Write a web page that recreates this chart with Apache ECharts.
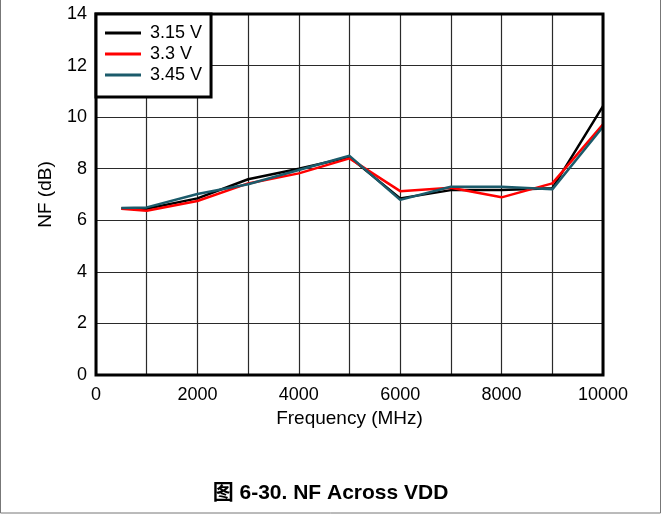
<!DOCTYPE html>
<html><head><meta charset="utf-8">
<script src="https://cdn.jsdelivr.net/npm/echarts@6/dist/echarts.min.js"></script>
<style>html,body{margin:0;padding:0;background:#fff}#c{width:661px;height:516px}</style>
</head><body><div id="c"></div>
<script>
const freqs = [500, 1000, 2000, 3000, 4000, 5000, 6000, 7000, 8000, 9000, 10000];
const v315 = [6.46, 6.45, 6.85, 7.59, 8.0, 8.45, 6.85, 7.17, 7.17, 7.24, 10.43];
const v33  = [6.45, 6.37, 6.75, 7.43, 7.82, 8.4, 7.13, 7.26, 6.89, 7.43, 9.72];
const v345 = [6.48, 6.5, 7.02, 7.4, 7.95, 8.5, 6.79, 7.3, 7.3, 7.2, 9.63];
const seriesNames = ['3.15 V', '3.3 V', '3.45 V'];
const colors = ['#000000', '#ff0000', '#1b5b6b'];
const xTicks = [0, 2000, 4000, 6000, 8000, 10000];
const yTicks = [0, 2, 4, 6, 8, 10, 12, 14];

const font = '"Liberation Sans", Arial, sans-serif';
const chart = echarts.init(document.getElementById('c'));
const mk = (name, vals, i) => ({
  name, type: 'line', data: freqs.map((f, k) => [f, vals[k]]),
  symbol: 'none', lineStyle: {width: 2.5, color: colors[i]}, itemStyle: {color: colors[i]}, z: 3 + i
});
chart.setOption({
  animation: false,
  grid: {left: 96, top: 14, width: 507, height: 361, show: true, borderColor: '#000', borderWidth: 3, z: 10},
  xAxis: {
    type: 'value', min: 0, max: 10000, interval: 1000,
    name: 'Frequency (MHz)', nameLocation: 'middle', nameGap: 29,
    nameTextStyle: {fontFamily: font, fontSize: 19, color: '#000'},
    axisLine: {show: false}, axisTick: {show: false},
    axisLabel: {fontFamily: font, fontSize: 18, color: '#000', margin: 11,
      formatter: v => xTicks.includes(v) ? String(v) : ''},
    splitLine: {lineStyle: {color: '#2a2a2a', width: 1.2}}
  },
  yAxis: {
    type: 'value', min: 0, max: 14, interval: 2,
    name: 'NF (dB)', nameLocation: 'middle', nameGap: 41,
    nameTextStyle: {fontFamily: font, fontSize: 19, color: '#000'},
    axisLine: {show: false}, axisTick: {show: false},
    axisLabel: {fontFamily: font, fontSize: 18, color: '#000', margin: 9,
      formatter: v => yTicks.includes(v) ? String(v) : ''},
    splitLine: {lineStyle: {color: '#2a2a2a', width: 1.2}}
  },
  legend: {
    orient: 'vertical', left: 96, top: 14, data: seriesNames,
    backgroundColor: '#fff', borderColor: '#000', borderWidth: 3, borderRadius: 0,
    padding: [10, 9, 13, 9], itemGap: 3, itemWidth: 36, itemHeight: 3,
    icon: 'rect', textStyle: {fontFamily: font, fontSize: 18, color: '#000', padding: [0, 0, 0, 4]},
    z: 20
  },
  graphic: [
    {type: 'text', left: 'center', top: 483, style: {text: '图 6-30. NF Across VDD', fontFamily: '"Liberation Sans", "Noto Sans CJK SC", sans-serif', fontSize: 21, fontWeight: 'bold', fill: '#000'}},
    {type: 'rect', shape: {x: 0.5, y: -2, width: 660, height: 515}, style: {fill: 'none', stroke: '#777', lineWidth: 1}}
  ],
  series: [mk(seriesNames[0], v315, 0), mk(seriesNames[1], v33, 1), mk(seriesNames[2], v345, 2)]
});
</script></body></html>
